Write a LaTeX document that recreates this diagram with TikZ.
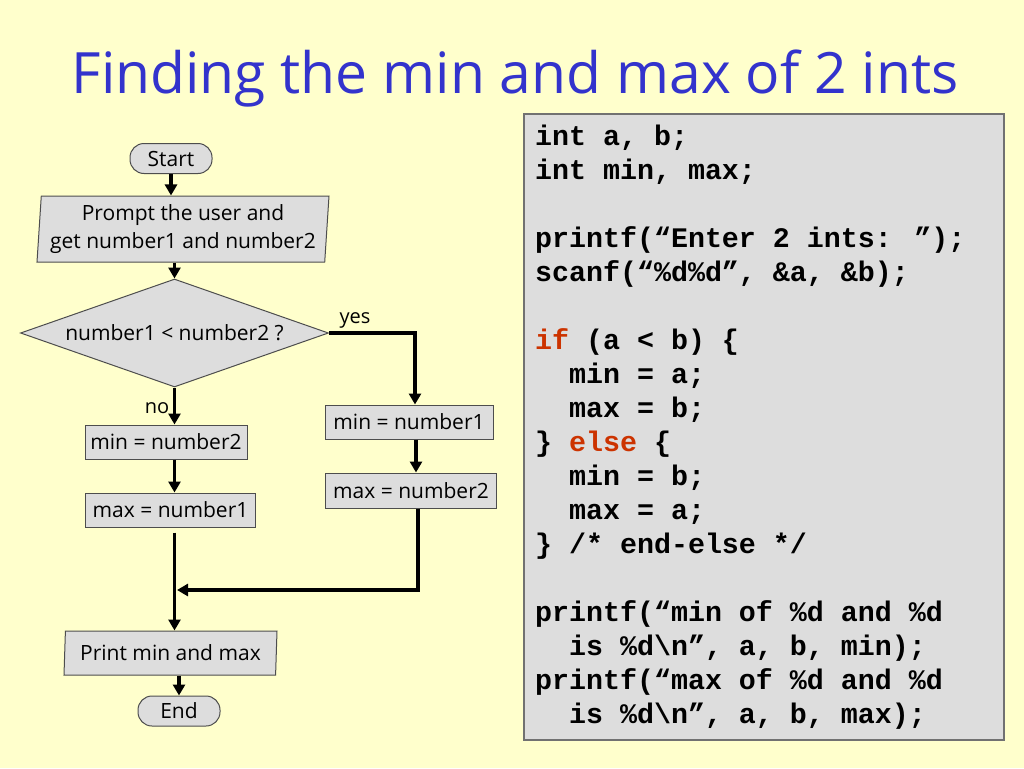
\documentclass[tikz,border=0pt]{standalone}
\usepackage{fontspec}
\usepackage{xcolor}
\setmainfont{Open Sans}
\newfontfamily\codefont{Liberation Mono}
\usetikzlibrary{shapes.geometric,arrows.meta}

\definecolor{slidebg}{HTML}{FFFFCC}
\definecolor{titleblue}{HTML}{3333CC}
\definecolor{boxfill}{HTML}{DDDDDD}
\definecolor{boxline}{HTML}{4D4D4D}
\definecolor{kwred}{HTML}{CC3300}

\newcommand{\kw}[1]{\textcolor{kwred}{#1}}

\tikzset{
	chart/.style={font=\fontsize{21}{28}\selectfont, text=black},
	procbox/.style={chart, rectangle, draw=boxline, fill=boxfill, line width=1pt,
		minimum height=34pt, inner xsep=5pt, inner ysep=0pt},
	iobox/.style={chart, trapezium, trapezium left angle=85, trapezium right angle=95,
		trapezium stretches body, draw=boxline, fill=boxfill, line width=1pt,
		align=center, inner sep=0pt},
	termbox/.style={chart, rectangle, rounded corners=14pt, draw=boxline, fill=boxfill,
		line width=1pt, minimum width=82pt, minimum height=30pt, inner sep=0pt},
	decision/.style={chart, diamond, aspect=2.85, draw=boxline, fill=boxfill, line width=1pt,
		minimum width=308pt, minimum height=108pt, inner sep=0pt},
	flow/.style={line width=3.5pt, -{Triangle[length=11pt,width=12pt]}},
	branch/.style={chart, font=\fontsize{20}{24}\selectfont}
}

\begin{document}
\begin{tikzpicture}[x=1pt, y=-1pt]
			\fill[slidebg] (0,0) rectangle (1024,768);
			\useasboundingbox (0,0) rectangle (1024,768);

			% title
			\node[anchor=base, text=titleblue, font=\fontsize{57}{64}\selectfont] (title) at (515,93)
				{Finding the min and max of 2 ints};

			% flowchart
			\node[termbox] (start) at (171,158.5) {Start};
			\node[iobox, minimum width=292pt, minimum height=66pt] (prompt) at (183,229)
				{Prompt the user and\\get number1 and number2};
			\node[decision] (test) at (174.5,333) {number1 < number2 ?};
			\node[procbox, minimum width=162pt] (minb) at (166,442) {min = number2};
			\node[procbox, minimum width=170pt] (maxa) at (170.5,510) {max = number1};
			\node[procbox, minimum width=168pt] (mina) at (409,422) {min = number1};
			\node[procbox, minimum width=171pt, minimum height=35pt] (maxb) at (411,490.5) {max = number2};
			\node[iobox, minimum width=213pt, minimum height=44pt] (show) at (170.5,653) {Print min and max};
			\node[termbox] (stop) at (179,711) {End};
			\coordinate (merge) at (177,590);

			\draw[flow] (start.south) -- (start.south |- prompt.north);
			\draw[flow] (test.north |- prompt.south) -- (test.north);
			\draw[flow] (test.south) -- (test.south |- minb.north);
			\draw[flow] (test.south |- minb.south) -- (test.south |- maxa.north);
			\draw[flow, shorten <=5pt] (test.south |- maxa.south) -- (test.south |- show.north);
			\draw[flow] (test.east) -| ([xshift=6pt]mina.north);
			\draw[flow] ([xshift=7pt]mina.south) -- ([xshift=7pt]mina.south |- maxb.north);
			\draw[flow] ([xshift=7pt]maxb.south) |- (merge);
			\draw[flow] (stop.north |- show.south) -- (stop.north);

			\node[branch] (yes) at (355,320) {yes};
			\node[branch] (no) at (157,408) {no};

			% code panel
			\draw[fill=boxfill, draw=boxline!80, line width=1.5pt] (524,114) rectangle (1004,740);
			\node[anchor=base west, inner sep=0pt, font=\codefont\bfseries\fontsize{28.3}{34}\selectfont] (code) at (535,145)
			{
				\begin{tabular}[t]{@{}l@{}}
					int a, b;\\
					int min, max;\\
					\mbox{}\\
					printf(“Enter 2 ints: ”);\\
					scanf(“\%d\%d”, \&a, \&b);\\
					\mbox{}\\
					\kw{if} (a < b) \{\\
					\ \ min = a;\\
					\ \ max = b;\\
					\} \kw{else} \{\\
					\ \ min = b;\\
					\ \ max = a;\\
					\} /* end-else */\\
					\mbox{}\\
					printf(“min of \%d and \%d\\
					\ \ is \%d\textbackslash n”, a, b, min);\\
					printf(“max of \%d and \%d\\
					\ \ is \%d\textbackslash n”, a, b, max);
				\end{tabular}
			};
		\end{tikzpicture}
\end{document}
